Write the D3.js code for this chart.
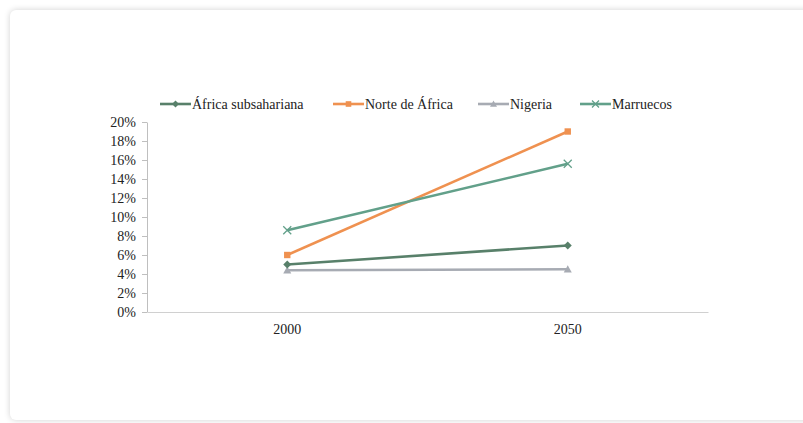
<!DOCTYPE html>
<html>
<head>
<meta charset="utf-8">
<script src="https://cdn.jsdelivr.net/npm/d3@7"></script>
<style>
  html, body { margin: 0; padding: 0; background: #fff; }
  body { width: 803px; height: 423px; overflow: hidden; position: relative; }
  .card {
    position: absolute; left: 10px; top: 10px; width: 820px; height: 410px;
    background: #fff; border-radius: 6px;
    box-shadow: 0 0 6px rgba(0,0,0,0.18);
  }
  svg { position: absolute; left: 0; top: 0; }
  text { font-family: "Liberation Serif", "Times New Roman", serif; fill: #222; }
</style>
</head>
<body>
<div class="card"></div>
<svg id="drawing_region"></svg>
<script>
const years = ["2000", "2050"];
const seriesNames = ["África subsahariana", "Norte de África", "Nigeria", "Marruecos"];
const africaSub = [0.050, 0.070];
const norteAfrica = [0.060, 0.190];
const nigeria = [0.044, 0.045];
const marruecos = [0.086, 0.156];
const yTicks = [0, 0.02, 0.04, 0.06, 0.08, 0.10, 0.12, 0.14, 0.16, 0.18, 0.20];

const colors = ["#58806a", "#ef9150", "#a7abb3", "#62a08a"];
const markers = ["diamond", "square", "triangle", "cross"];
const allValues = [africaSub, norteAfrica, nigeria, marruecos];

const width = 803, height = 423;
const margin = {top: 122, right: 95, bottom: 111, left: 147};

const svg = d3.select('#drawing_region')
    .attr('width', width)
    .attr('height', height);
const chart = svg.append('g')
    .attr('transform', `translate(${margin.left}, ${margin.top})`);

const inner_width = width - margin.left - margin.right;
const inner_height = height - margin.top - margin.bottom;

const xscale = d3.scaleBand()
    .domain(years)
    .range([0, inner_width]);

const yscale = d3.scaleLinear()
    .domain([0, 0.20])
    .range([inner_height, 0]);

// y axis
const yaxis = d3.axisLeft(yscale)
    .tickValues(yTicks)
    .tickFormat(d3.format(".0%"))
    .tickSize(5)
    .tickPadding(6)
    .tickSizeOuter(0);
const yg = chart.append('g').call(yaxis);
yg.select('.domain').attr('stroke', '#bfbfbf');
yg.selectAll('.tick line').attr('stroke', '#bfbfbf');
yg.selectAll('.tick text').attr('font-size', '14px').attr('fill', '#222')
    .attr('font-family', '"Liberation Serif", serif');

// x axis
const xaxis = d3.axisBottom(xscale).tickSize(0).tickPadding(12).tickSizeOuter(0);
const xg = chart.append('g')
    .attr('transform', `translate(0, ${inner_height})`)
    .call(xaxis);
xg.select('.domain').attr('stroke', '#d0d0d0');
xg.selectAll('.tick text').attr('font-size', '14px').attr('fill', '#222')
    .attr('font-family', '"Liberation Serif", serif');

function drawMarker(g, type, color, x, y, s) {
  if (type === "diamond") {
    g.append('path').attr('d', `M${x},${y - s}L${x + s},${y}L${x},${y + s}L${x - s},${y}Z`).attr('fill', color);
  } else if (type === "square") {
    g.append('rect').attr('x', x - s * 0.8).attr('y', y - s * 0.8)
        .attr('width', s * 1.6).attr('height', s * 1.6).attr('fill', color);
  } else if (type === "triangle") {
    g.append('path').attr('d', `M${x},${y - s}L${x + s},${y + s * 0.8}L${x - s},${y + s * 0.8}Z`).attr('fill', color);
  } else {
    g.append('path').attr('d', `M${x - s},${y - s}L${x + s},${y + s}M${x - s},${y + s}L${x + s},${y - s}`)
        .attr('stroke', color).attr('stroke-width', 1.3).attr('fill', 'none');
  }
}

const line = d3.line()
    .x((d, i) => xscale(years[i]) + xscale.bandwidth() / 2)
    .y(d => yscale(d));

// draw order so that dark green sits above gray
const order = [2, 1, 3, 0];
order.forEach(k => {
  const vals = allValues[k];
  chart.append('path')
      .datum(vals)
      .attr('d', line)
      .attr('fill', 'none')
      .attr('stroke', colors[k])
      .attr('stroke-width', 2.6);
  const mg = chart.append('g');
  vals.forEach((v, i) => {
    drawMarker(mg, markers[k], colors[k], xscale(years[i]) + xscale.bandwidth() / 2, yscale(v), 4);
  });
});

// legend
const legendX = [160, 333, 478, 580];
const legend = svg.append('g').attr('transform', 'translate(0, 104)');
seriesNames.forEach((name, k) => {
  const g = legend.append('g').attr('transform', `translate(${legendX[k]}, 0)`);
  g.append('line').attr('x1', 0).attr('x2', 31).attr('y1', 0).attr('y2', 0)
      .attr('stroke', colors[k]).attr('stroke-width', 2.6);
  drawMarker(g, markers[k], colors[k], 15.5, 0, 3.5);
  g.append('text').attr('x', 32).attr('y', 4.5)
      .attr('font-size', '14px')
      .text(name);
});
</script>
</body>
</html>
